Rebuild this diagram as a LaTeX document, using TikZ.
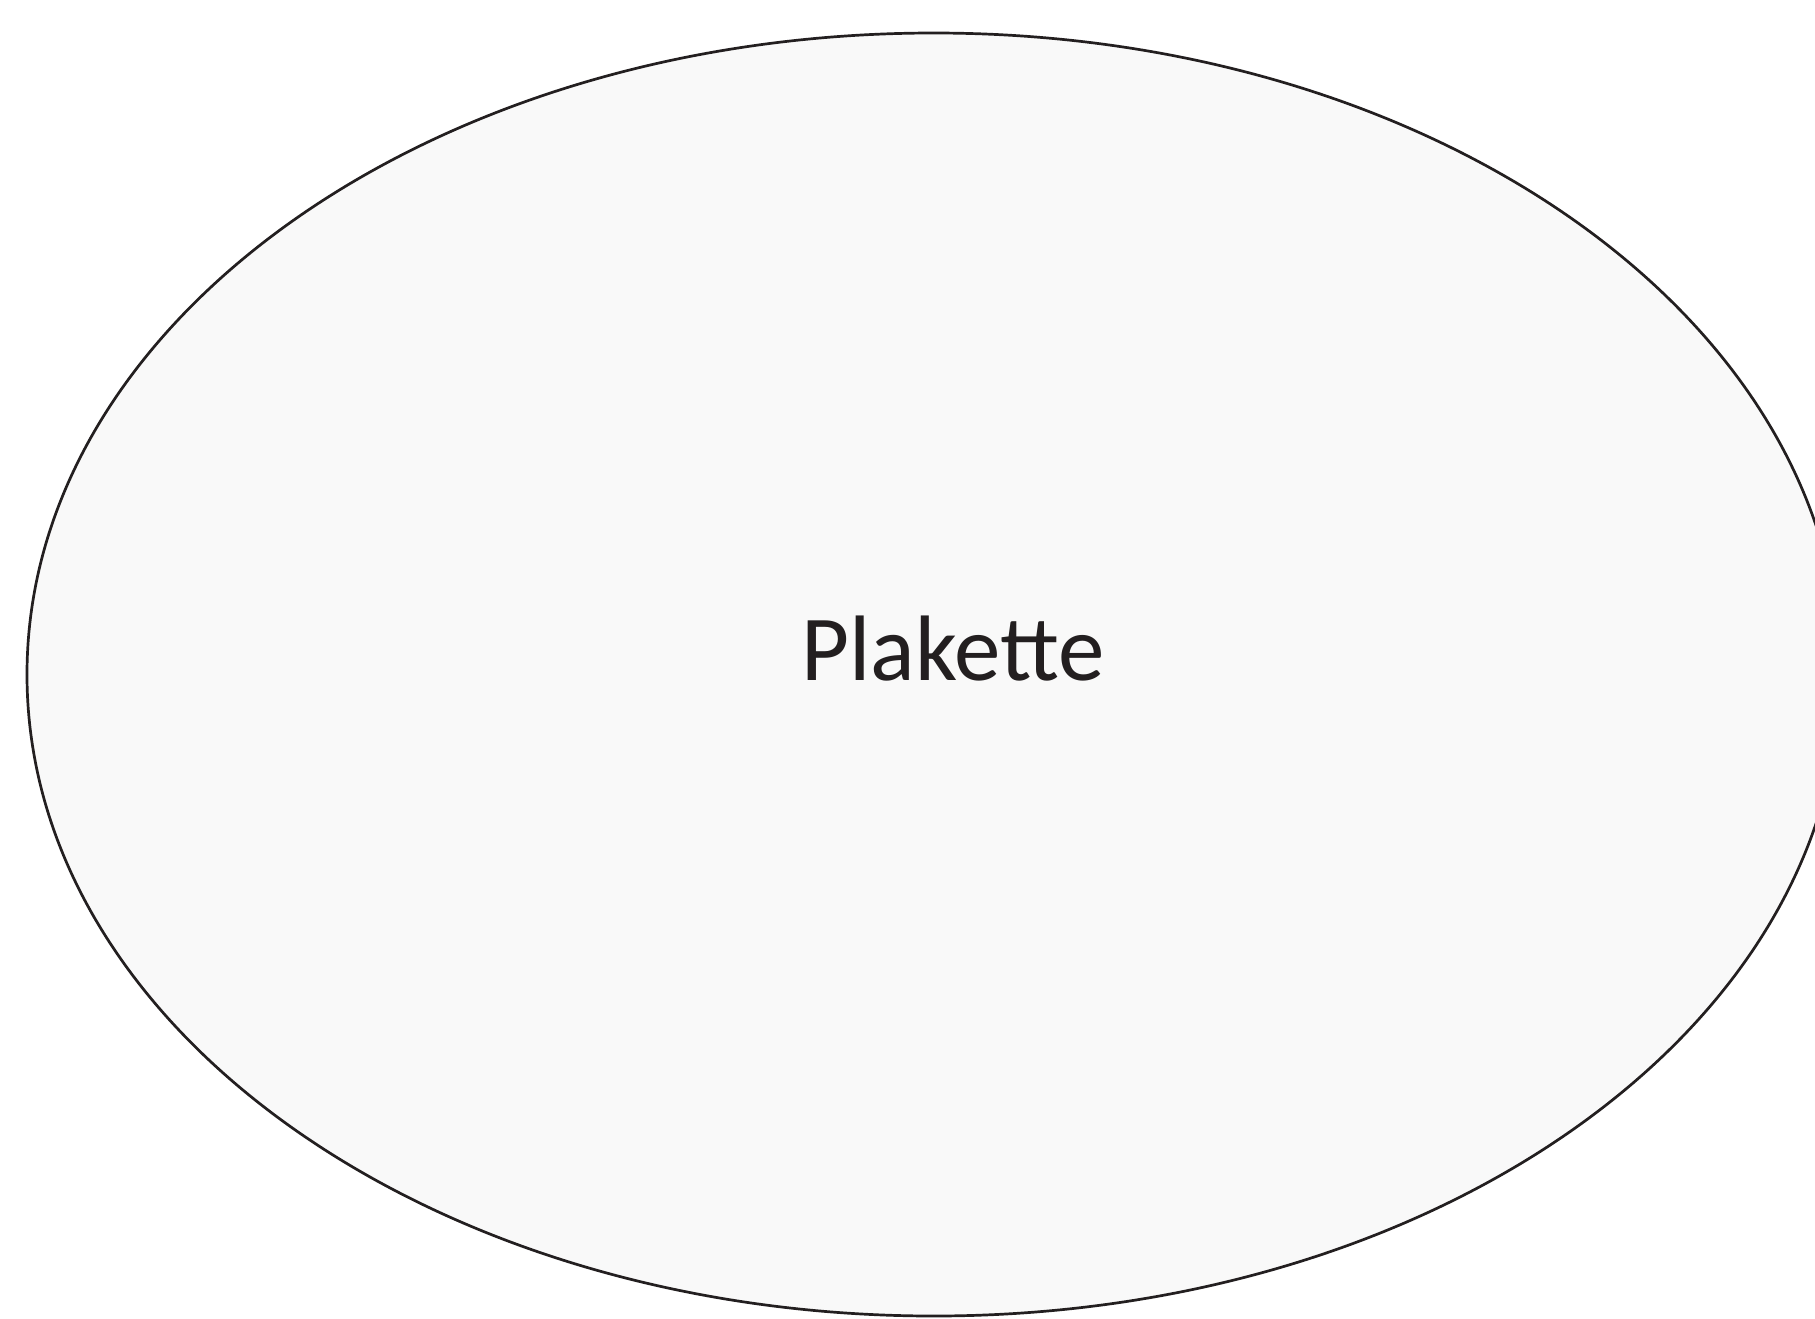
\documentclass[tikz,border=0pt]{standalone}
\usepackage{fontspec}
\setmainfont{Carlito}
\definecolor{fillc}{HTML}{F9F9F9}
\definecolor{linec}{HTML}{231F20}
\tikzset{blob/.style={draw=linec,fill=fillc,line width=2.7pt},
  lbl/.style={text=linec,font=\fontsize{93}{100}\selectfont,inner sep=0pt,anchor=base}}
\begin{document}
\begin{tikzpicture}[x=1pt,y=-1pt]
\useasboundingbox (0,0) rectangle (1815,1318);
\fill[white] (0,0) rectangle (1815,1318);
\begin{scope}
\clip (0,0) rectangle (1815,1318);
\draw[blob] (933.8,674.5) ellipse [x radius=906.8, y radius=641.5];
\end{scope}
\coordinate (c) at (933.8,674.5);
\node[lbl] (t) at (953,680) {Plakette};
\end{tikzpicture}
\end{document}
